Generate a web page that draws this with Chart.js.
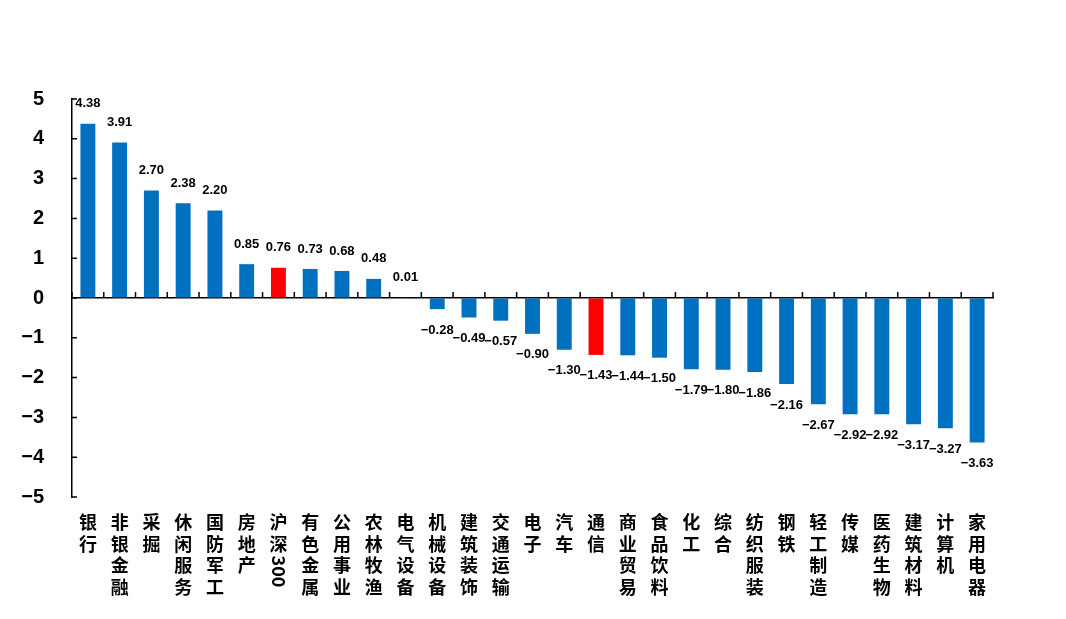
<!DOCTYPE html>
<html>
<head>
<meta charset="utf-8">
<script src="https://cdn.jsdelivr.net/npm/chart.js@4"></script>
<style>
  html, body { margin: 0; padding: 0; background: #fff; }
  #c { display: block; }
</style>
</head>
<body>
<canvas id="c" width="1066" height="619"></canvas>
<script>
// 行业涨跌幅
const categories = ['银行', '非银金融', '采掘', '休闲服务', '国防军工', '房地产', '沪深300', '有色金属', '公用事业', '农林牧渔',
  '电气设备', '机械设备', '建筑装饰', '交通运输', '电子', '汽车', '通信', '商业贸易', '食品饮料', '化工',
  '综合', '纺织服装', '钢铁', '轻工制造', '传媒', '医药生物', '建筑材料', '计算机', '家用电器'];
const values = [4.38, 3.91, 2.70, 2.38, 2.20, 0.85, 0.76, 0.73, 0.68, 0.48,
  0.01, -0.28, -0.49, -0.57, -0.90, -1.30, -1.43, -1.44, -1.50, -1.79,
  -1.80, -1.86, -2.16, -2.67, -2.92, -2.92, -3.17, -3.27, -3.63];
const highlighted = ['沪深300', '通信'];
const yMin = -5, yMax = 5, yStep = 1;

const barColors = categories.map(c => highlighted.includes(c) ? '#FF0000' : '#0070C0');

// 数值标签
const valueLabels = {
  id: 'valueLabels',
  afterDatasetsDraw(chart) {
    const ctx = chart.ctx;
    const meta = chart.getDatasetMeta(0);
    ctx.save();
    ctx.font = 'bold 13px "Liberation Sans", Arial, sans-serif';
    ctx.fillStyle = '#000';
    ctx.textAlign = 'center';
    ctx.textBaseline = 'middle';
    meta.data.forEach((bar, i) => {
      const v = values[i];
      const txt = v.toFixed(2).replace('-', '−');
      if (v >= 0) {
        ctx.fillText(txt, bar.x, bar.y - 20);
      } else {
        ctx.fillText(txt, bar.x, bar.y + 21);
      }
    });
    ctx.restore();
  }
};

// 刻度线朝内
const innerTicks = {
  id: 'innerTicks',
  afterDraw(chart) {
    const ctx = chart.ctx;
    const xs = chart.scales.x, ys = chart.scales.y;
    const x0 = chart.chartArea.left, y0 = ys.getPixelForValue(0);
    ctx.save();
    ctx.strokeStyle = '#000';
    ctx.lineWidth = 1.5;
    ctx.beginPath();
    ys.ticks.forEach(t => {
      const y = ys.getPixelForValue(t.value);
      ctx.moveTo(x0, y);
      ctx.lineTo(x0 + 5, y);
    });
    for (let i = 0; i <= categories.length; i++) {
      const x = xs.getPixelForValue(i - 0.5);
      ctx.moveTo(x, y0);
      ctx.lineTo(x, y0 - 6);
    }
    ctx.stroke();
    ctx.restore();
  }
};

// 竖排类别标签
const verticalLabels = {
  id: 'verticalLabels',
  afterDraw(chart) {
    const ctx = chart.ctx;
    const xs = chart.scales.x;
    ctx.save();
    ctx.font = 'bold 18px "Noto Sans CJK SC", sans-serif';
    ctx.fillStyle = '#000';
    ctx.textBaseline = 'middle';
    categories.forEach((name, i) => {
      const x = xs.getPixelForValue(i);
      const parts = name.match(/[0-9]+|./g);
      let y = 522;
      parts.forEach(p => {
        if (/^[0-9]+$/.test(p)) {
          ctx.save();
          ctx.translate(x, y - 10);
          ctx.rotate(Math.PI / 2);
          ctx.textAlign = 'left';
          ctx.fillText(p, 0, 0);
          const w = ctx.measureText(p).width;
          ctx.restore();
          y += w + 12;
        } else {
          ctx.textAlign = 'center';
          ctx.fillText(p, x, y);
          y += 21.8;
        }
      });
    });
    ctx.restore();
  }
};

new Chart(document.getElementById('c'), {
  type: 'bar',
  data: {
    labels: categories,
    datasets: [{
      data: values,
      backgroundColor: barColors,
      borderWidth: 0,
      categoryPercentage: 1,
      barPercentage: 0.47
    }]
  },
  options: {
    responsive: false,
    animation: false,
    layout: { padding: { top: 99, bottom: 122, right: 73, left: 0 } },
    plugins: {
      legend: { display: false },
      tooltip: { enabled: false }
    },
    scales: {
      x: {
        position: { y: 0 },
        ticks: { display: false },
        grid: { display: false },
        border: { color: '#000', width: 1.5 }
      },
      y: {
        min: yMin,
        max: yMax,
        afterFit(scale) { scale.width = 72; },
        ticks: {
          stepSize: yStep,
          padding: 28,
          color: '#000',
          font: { family: '"Liberation Sans", Arial, sans-serif', size: 20, weight: 'bold' },
          callback: v => String(v).replace('-', '−')
        },
        grid: { drawOnChartArea: false, drawTicks: false },
        border: { color: '#000', width: 1.5 }
      }
    }
  },
  plugins: [valueLabels, innerTicks, verticalLabels]
});
</script>
</body>
</html>
